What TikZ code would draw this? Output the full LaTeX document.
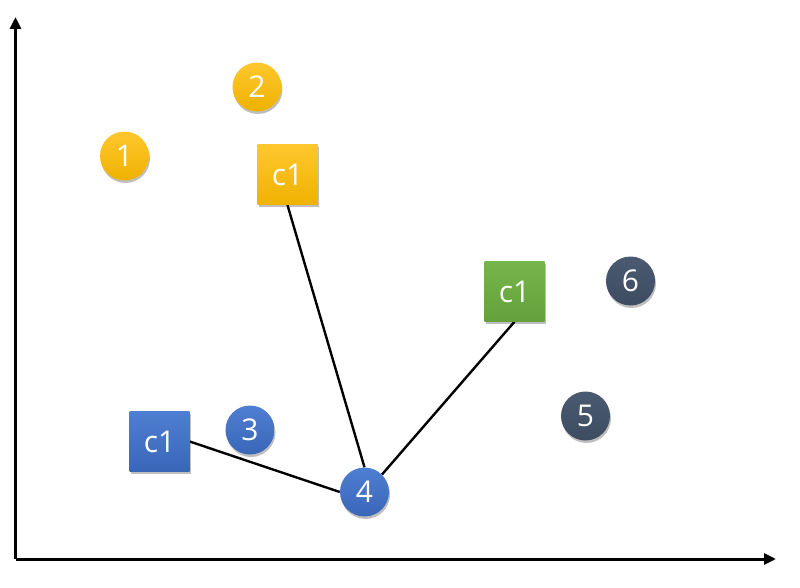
\documentclass[tikz,border=0pt]{standalone}
\usepackage{fontspec}
\setmainfont{Open Sans}
\usetikzlibrary{arrows.meta,shadows,backgrounds}
\definecolor{ytop}{HTML}{FFC72E}
\definecolor{ybot}{HTML}{EFB200}
\definecolor{btop}{HTML}{4F7FD2}
\definecolor{bbot}{HTML}{3A66B8}
\definecolor{gtop}{HTML}{76B54B}
\definecolor{gbot}{HTML}{63A23A}
\definecolor{dtop}{HTML}{4A5A71}
\definecolor{dbot}{HTML}{3D4C61}
\tikzset{
  base/.style={text=white, font=\fontsize{30}{32}\selectfont, inner sep=0pt,
    drop shadow={shadow xshift=1pt, shadow yshift=-2.5pt, opacity=0.25, fill=black}},
  pt/.style={base, circle, minimum size=49pt},
  ctr/.style={base, rectangle, minimum size=60pt},
  yel/.style={top color=ytop, bottom color=ybot},
  blu/.style={top color=btop, bottom color=bbot},
  grn/.style={top color=gtop, bottom color=gbot},
  drk/.style={top color=dtop, bottom color=dbot},
  link/.style={draw=black, line width=2.4pt},
  axis/.style={draw=black, line width=3pt, -{Triangle[length=12pt,width=11pt]}}
}
\begin{document}
\begin{tikzpicture}[x=1pt,y=-1pt]
\useasboundingbox (0,0) rectangle (800,588);
\coordinate (o) at (15.5,559);
\coordinate (ytip) at (15.5,17);
\coordinate (xtip) at (776,559);
\draw[axis] (o) -- (ytip);
\draw[axis] (o) -- (xtip);
\node[pt,yel] (p1) at (124.5,156) {1};
\node[pt,yel] (p2) at (257,87) {2};
\node[pt,blu] (p3) at (250,430) {3};
\node[pt,drk] (p6) at (630.5,281) {6};
\node[pt,drk] (p5) at (585.5,416) {5};
\node[ctr,yel] (cy) at (287.5,175) {c1};
\node[ctr,blu] (cb) at (159.5,441.5) {c1};
\node[ctr,grn] (cg) at (514.5,291.5) {c1};
\node[pt,blu] (p4) at (364.5,492) {4};
\begin{scope}[on background layer]
\draw[link] (cy.south) -- (p4.north);
\draw[link] (cb.east) -- (p4.west);
\draw[link] (cg.south) -- (p4.north east);
\end{scope}
\end{tikzpicture}
\end{document}
